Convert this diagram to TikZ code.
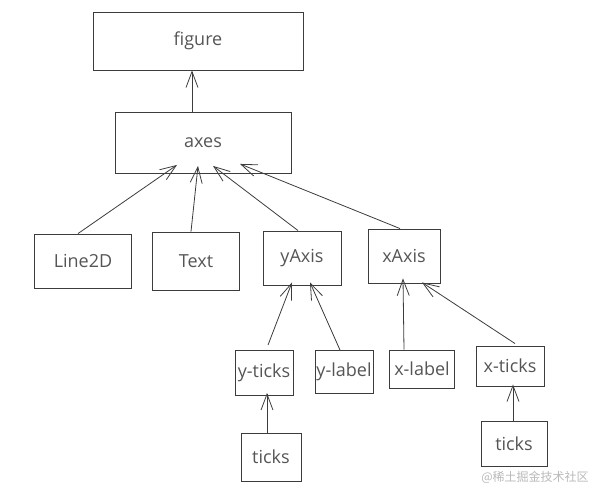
\documentclass[tikz,border=0pt]{standalone}
\usepackage{fontspec}
\setmainfont{Open Sans}
\newfontfamily\cjk{Noto Sans CJK SC}
\usepackage{tikz}
\usetikzlibrary{arrows.meta,positioning}
\definecolor{sketchgray}{RGB}{60,60,60}
\definecolor{inkgray}{RGB}{85,85,85}

\begin{document}
\begin{tikzpicture}[x=1pt,y=-1pt,
    every node/.style={font=\fontsize{18}{21}\selectfont,text=inkgray},
    box/.style={draw=sketchgray,line width=0.9pt,inner sep=0pt},
    arr/.style={draw=sketchgray,line width=0.8pt,-{Straight Barb[length=16pt,width=12pt]}}]
        \useasboundingbox (0,0) rectangle (605,497);
        % top of the tree
        \node[box,minimum width=210pt,minimum height=58pt] (fig) at (198,41) {figure};
        \node[box,minimum width=176pt,minimum height=61pt] (ax) at (203,143) {axes};
        % children of axes
        \node[box,minimum width=97pt,minimum height=54pt] (line) at (83,261) {Line2D};
        \node[box,minimum width=87pt,minimum height=58pt] (txt) at (196,261) {Text};
        \node[box,minimum width=78pt,minimum height=54pt] (yax) at (302,258) {yAxis};
        \node[box,minimum width=72pt,minimum height=54pt] (xax) at (404,256) {xAxis};
        % axis parts
        \node[box,minimum width=58pt,minimum height=45pt] (ytk) at (264,373) {y-ticks};
        \node[box,minimum width=58pt,minimum height=43pt] (ylb) at (344,372) {y-label};
        \node[box,minimum width=65pt,minimum height=38pt] (xlb) at (422,369) {x-label};
        \node[box,minimum width=68pt,minimum height=40pt] (xtk) at (510,366) {x-ticks};
        \node[box,minimum width=60pt,minimum height=48pt] (tk1) at (271,457) {ticks};
        \node[box,minimum width=66pt,minimum height=45pt] (tk2) at (514,444) {ticks};
        \node[font=\cjk\fontsize{12}{14}\selectfont,text=gray!55] (mark) at (535,477) {@稀土掘金技术社区};
        \draw[arr] ([xshift=-11pt]ax.north) -- ([xshift=-6pt]fig.south);
        \draw[arr] ([xshift=-5pt]line.north) -- ([xshift=-26pt,yshift=9pt]ax.south);
        \draw[arr] ([xshift=-5pt]txt.north) -- ([xshift=-5pt,yshift=8pt]ax.south);
        \draw[arr] ([xshift=-4pt]yax.north) -- ([xshift=10pt,yshift=8pt]ax.south);
        \draw[arr] ([xshift=-4pt]xax.north) -- ([xshift=37pt,yshift=10pt]ax.south);
        \draw[arr] ([xshift=4pt,yshift=5pt]ytk.north) -- ([xshift=-10pt,yshift=3pt]yax.south);
        \draw[arr] ([xshift=-4pt]ylb.north) -- ([xshift=8pt,yshift=3pt]yax.south);
        \draw[arr] ([xshift=-18pt]xlb.north) -- ([xshift=-1pt,yshift=5pt]xax.south);
        \draw[arr] ([xshift=5pt,yshift=2pt]xtk.north) -- ([xshift=18pt,yshift=1pt]xax.south);
        \draw[arr] ([xshift=-4pt]tk1.north) -- ([xshift=3pt,yshift=3pt]ytk.south);
        \draw[arr] ([xshift=-1pt]tk2.north) -- ([xshift=3pt,yshift=2pt]xtk.south);
      \end{tikzpicture}
\end{document}
